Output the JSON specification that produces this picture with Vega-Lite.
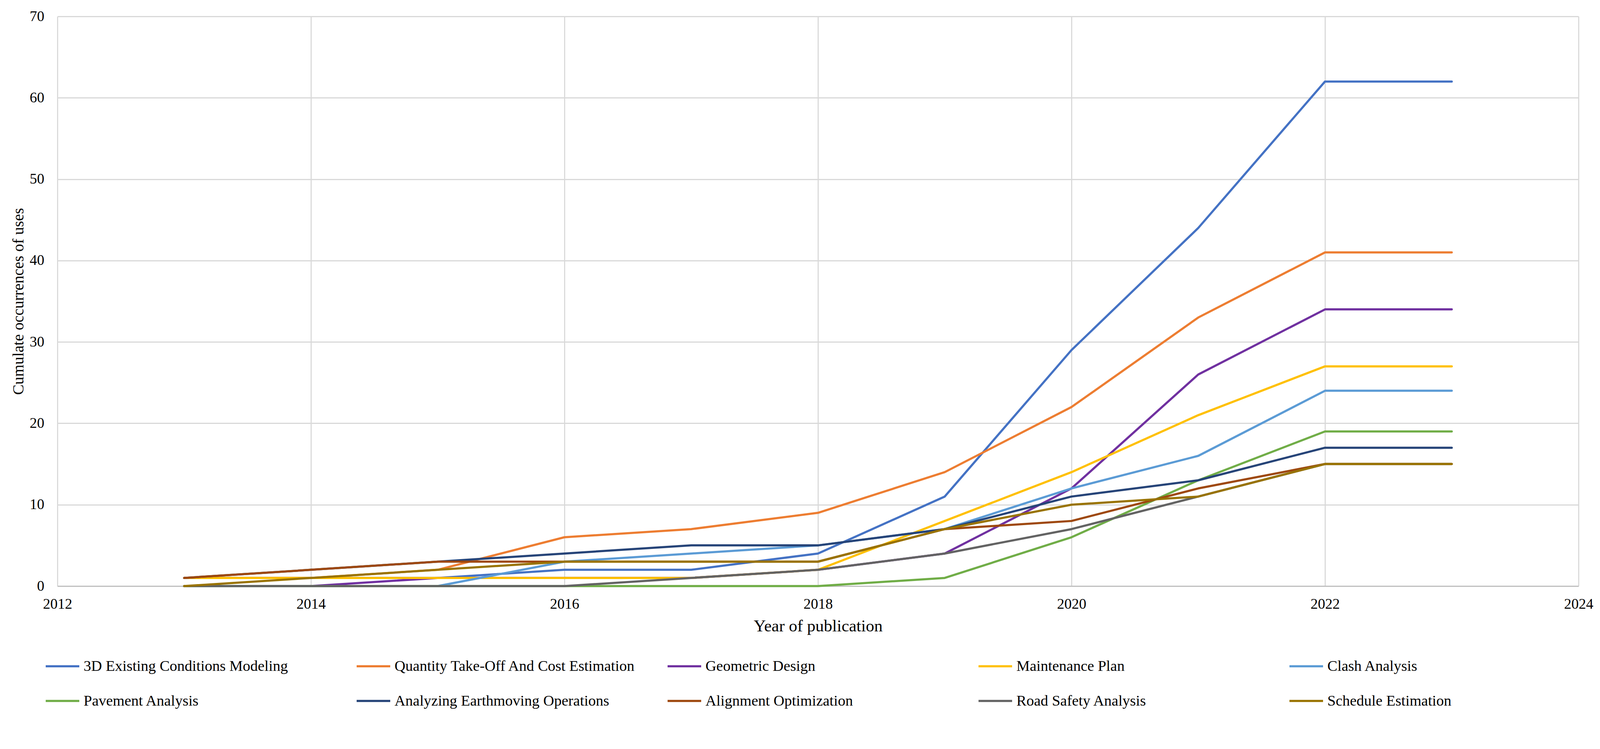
{
  "$schema": "https://vega.github.io/schema/vega-lite/v6.json",
  "width": 3894,
  "height": 1458,
  "autosize": {"type": "none"},
  "padding": {"left": 147, "top": 42, "right": 53, "bottom": 331},
  "background": "#ffffff",
  "config": {
    "font": "Liberation Serif",
    "view": {"stroke": null},
    "axis": {
      "labelFont": "Liberation Serif",
      "titleFont": "Liberation Serif",
      "labelFontSize": 37.5,
      "titleFontSize": 42,
      "labelColor": "#000000",
      "titleColor": "#000000",
      "titleFontWeight": "normal",
      "gridColor": "#d9d9d9",
      "gridWidth": 2.8,
      "ticks": false,
      "tickSize": 0
    },
    "legend": {
      "labelFont": "Liberation Serif",
      "labelFontSize": 38.5,
      "labelColor": "#000000"
    }
  },
  "data": {
    "values": [
      {"series": "3D Existing Conditions Modeling", "year": 2013, "count": 1},
      {"series": "3D Existing Conditions Modeling", "year": 2014, "count": 1},
      {"series": "3D Existing Conditions Modeling", "year": 2015, "count": 1},
      {"series": "3D Existing Conditions Modeling", "year": 2016, "count": 2},
      {"series": "3D Existing Conditions Modeling", "year": 2017, "count": 2},
      {"series": "3D Existing Conditions Modeling", "year": 2018, "count": 4},
      {"series": "3D Existing Conditions Modeling", "year": 2019, "count": 11},
      {"series": "3D Existing Conditions Modeling", "year": 2020, "count": 29},
      {"series": "3D Existing Conditions Modeling", "year": 2021, "count": 44},
      {"series": "3D Existing Conditions Modeling", "year": 2022, "count": 62},
      {"series": "3D Existing Conditions Modeling", "year": 2023, "count": 62},
      {"series": "Quantity Take-Off And Cost Estimation", "year": 2013, "count": 1},
      {"series": "Quantity Take-Off And Cost Estimation", "year": 2014, "count": 1},
      {"series": "Quantity Take-Off And Cost Estimation", "year": 2015, "count": 2},
      {"series": "Quantity Take-Off And Cost Estimation", "year": 2016, "count": 6},
      {"series": "Quantity Take-Off And Cost Estimation", "year": 2017, "count": 7},
      {"series": "Quantity Take-Off And Cost Estimation", "year": 2018, "count": 9},
      {"series": "Quantity Take-Off And Cost Estimation", "year": 2019, "count": 14},
      {"series": "Quantity Take-Off And Cost Estimation", "year": 2020, "count": 22},
      {"series": "Quantity Take-Off And Cost Estimation", "year": 2021, "count": 33},
      {"series": "Quantity Take-Off And Cost Estimation", "year": 2022, "count": 41},
      {"series": "Quantity Take-Off And Cost Estimation", "year": 2023, "count": 41},
      {"series": "Geometric Design", "year": 2013, "count": 0},
      {"series": "Geometric Design", "year": 2014, "count": 0},
      {"series": "Geometric Design", "year": 2015, "count": 1},
      {"series": "Geometric Design", "year": 2016, "count": 1},
      {"series": "Geometric Design", "year": 2017, "count": 1},
      {"series": "Geometric Design", "year": 2018, "count": 2},
      {"series": "Geometric Design", "year": 2019, "count": 4},
      {"series": "Geometric Design", "year": 2020, "count": 12},
      {"series": "Geometric Design", "year": 2021, "count": 26},
      {"series": "Geometric Design", "year": 2022, "count": 34},
      {"series": "Geometric Design", "year": 2023, "count": 34},
      {"series": "Maintenance Plan", "year": 2013, "count": 1},
      {"series": "Maintenance Plan", "year": 2014, "count": 1},
      {"series": "Maintenance Plan", "year": 2015, "count": 1},
      {"series": "Maintenance Plan", "year": 2016, "count": 1},
      {"series": "Maintenance Plan", "year": 2017, "count": 1},
      {"series": "Maintenance Plan", "year": 2018, "count": 2},
      {"series": "Maintenance Plan", "year": 2019, "count": 8},
      {"series": "Maintenance Plan", "year": 2020, "count": 14},
      {"series": "Maintenance Plan", "year": 2021, "count": 21},
      {"series": "Maintenance Plan", "year": 2022, "count": 27},
      {"series": "Maintenance Plan", "year": 2023, "count": 27},
      {"series": "Clash Analysis", "year": 2013, "count": 0},
      {"series": "Clash Analysis", "year": 2014, "count": 0},
      {"series": "Clash Analysis", "year": 2015, "count": 0},
      {"series": "Clash Analysis", "year": 2016, "count": 3},
      {"series": "Clash Analysis", "year": 2017, "count": 4},
      {"series": "Clash Analysis", "year": 2018, "count": 5},
      {"series": "Clash Analysis", "year": 2019, "count": 7},
      {"series": "Clash Analysis", "year": 2020, "count": 12},
      {"series": "Clash Analysis", "year": 2021, "count": 16},
      {"series": "Clash Analysis", "year": 2022, "count": 24},
      {"series": "Clash Analysis", "year": 2023, "count": 24},
      {"series": "Pavement Analysis", "year": 2013, "count": 0},
      {"series": "Pavement Analysis", "year": 2014, "count": 0},
      {"series": "Pavement Analysis", "year": 2015, "count": 0},
      {"series": "Pavement Analysis", "year": 2016, "count": 0},
      {"series": "Pavement Analysis", "year": 2017, "count": 0},
      {"series": "Pavement Analysis", "year": 2018, "count": 0},
      {"series": "Pavement Analysis", "year": 2019, "count": 1},
      {"series": "Pavement Analysis", "year": 2020, "count": 6},
      {"series": "Pavement Analysis", "year": 2021, "count": 13},
      {"series": "Pavement Analysis", "year": 2022, "count": 19},
      {"series": "Pavement Analysis", "year": 2023, "count": 19},
      {"series": "Analyzing Earthmoving Operations", "year": 2013, "count": 1},
      {"series": "Analyzing Earthmoving Operations", "year": 2014, "count": 2},
      {"series": "Analyzing Earthmoving Operations", "year": 2015, "count": 3},
      {"series": "Analyzing Earthmoving Operations", "year": 2016, "count": 4},
      {"series": "Analyzing Earthmoving Operations", "year": 2017, "count": 5},
      {"series": "Analyzing Earthmoving Operations", "year": 2018, "count": 5},
      {"series": "Analyzing Earthmoving Operations", "year": 2019, "count": 7},
      {"series": "Analyzing Earthmoving Operations", "year": 2020, "count": 11},
      {"series": "Analyzing Earthmoving Operations", "year": 2021, "count": 13},
      {"series": "Analyzing Earthmoving Operations", "year": 2022, "count": 17},
      {"series": "Analyzing Earthmoving Operations", "year": 2023, "count": 17},
      {"series": "Alignment Optimization", "year": 2013, "count": 1},
      {"series": "Alignment Optimization", "year": 2014, "count": 2},
      {"series": "Alignment Optimization", "year": 2015, "count": 3},
      {"series": "Alignment Optimization", "year": 2016, "count": 3},
      {"series": "Alignment Optimization", "year": 2017, "count": 3},
      {"series": "Alignment Optimization", "year": 2018, "count": 3},
      {"series": "Alignment Optimization", "year": 2019, "count": 7},
      {"series": "Alignment Optimization", "year": 2020, "count": 8},
      {"series": "Alignment Optimization", "year": 2021, "count": 12},
      {"series": "Alignment Optimization", "year": 2022, "count": 15},
      {"series": "Alignment Optimization", "year": 2023, "count": 15},
      {"series": "Road Safety Analysis", "year": 2013, "count": 0},
      {"series": "Road Safety Analysis", "year": 2014, "count": 0},
      {"series": "Road Safety Analysis", "year": 2015, "count": 0},
      {"series": "Road Safety Analysis", "year": 2016, "count": 0},
      {"series": "Road Safety Analysis", "year": 2017, "count": 1},
      {"series": "Road Safety Analysis", "year": 2018, "count": 2},
      {"series": "Road Safety Analysis", "year": 2019, "count": 4},
      {"series": "Road Safety Analysis", "year": 2020, "count": 7},
      {"series": "Road Safety Analysis", "year": 2021, "count": 11},
      {"series": "Road Safety Analysis", "year": 2022, "count": 15},
      {"series": "Road Safety Analysis", "year": 2023, "count": 15},
      {"series": "Schedule Estimation", "year": 2013, "count": 0},
      {"series": "Schedule Estimation", "year": 2014, "count": 1},
      {"series": "Schedule Estimation", "year": 2015, "count": 2},
      {"series": "Schedule Estimation", "year": 2016, "count": 3},
      {"series": "Schedule Estimation", "year": 2017, "count": 3},
      {"series": "Schedule Estimation", "year": 2018, "count": 3},
      {"series": "Schedule Estimation", "year": 2019, "count": 7},
      {"series": "Schedule Estimation", "year": 2020, "count": 10},
      {"series": "Schedule Estimation", "year": 2021, "count": 11},
      {"series": "Schedule Estimation", "year": 2022, "count": 15},
      {"series": "Schedule Estimation", "year": 2023, "count": 15}
    ]
  },
  "mark": {"type": "line", "strokeWidth": 5.5, "strokeJoin": "round", "strokeCap": "round"},
  "encoding": {
    "x": {
      "field": "year",
      "type": "quantitative",
      "scale": {"domain": [2012, 2024], "nice": false, "zero": false},
      "axis": {
        "title": "Year of publication",
        "titleFontSize": 43,
        "values": [2012, 2014, 2016, 2018, 2020, 2022, 2024],
        "format": "d",
        "labelPadding": 27,
        "domainColor": "#bfbfbf",
        "domainWidth": 2.8,
        "titleY": 102,
        "titleBaseline": "middle",
        "labelFlush": false
      }
    },
    "y": {
      "field": "count",
      "type": "quantitative",
      "scale": {"domain": [0, 70], "nice": false},
      "axis": {
        "title": "Cumulate occurrences of uses",
        "titleFontSize": 40,
        "values": [0, 10, 20, 30, 40, 50, 60, 70],
        "labelPadding": 34,
        "domain": false,
        "titleX": -100,
        "titleY": 729,
        "titleBaseline": "middle",
        "titleAlign": "center",
        "titleAngle": -90
      }
    },
    "color": {
      "field": "series",
      "type": "nominal",
      "sort": null,
      "scale": {
        "domain": ["3D Existing Conditions Modeling", "Quantity Take-Off And Cost Estimation", "Geometric Design", "Maintenance Plan", "Clash Analysis", "Pavement Analysis", "Analyzing Earthmoving Operations", "Alignment Optimization", "Road Safety Analysis", "Schedule Estimation"],
        "range": ["#4472C4", "#ED7D31", "#7030A0", "#FFC000", "#5B9BD5", "#70AD47", "#264478", "#9E480E", "#636363", "#997300"]
      },
      "legend": {
        "title": null,
        "orient": "none",
        "legendX": -33,
        "legendY": 1617,
        "direction": "horizontal",
        "columns": 5,
        "gridAlign": "all",
        "columnPadding": 71,
        "rowPadding": 23,
        "symbolType": "stroke",
        "symbolSize": 7396,
        "symbolStrokeWidth": 5.5,
        "labelOffset": 8,
        "labelLimit": 2000
      }
    }
  }
}
